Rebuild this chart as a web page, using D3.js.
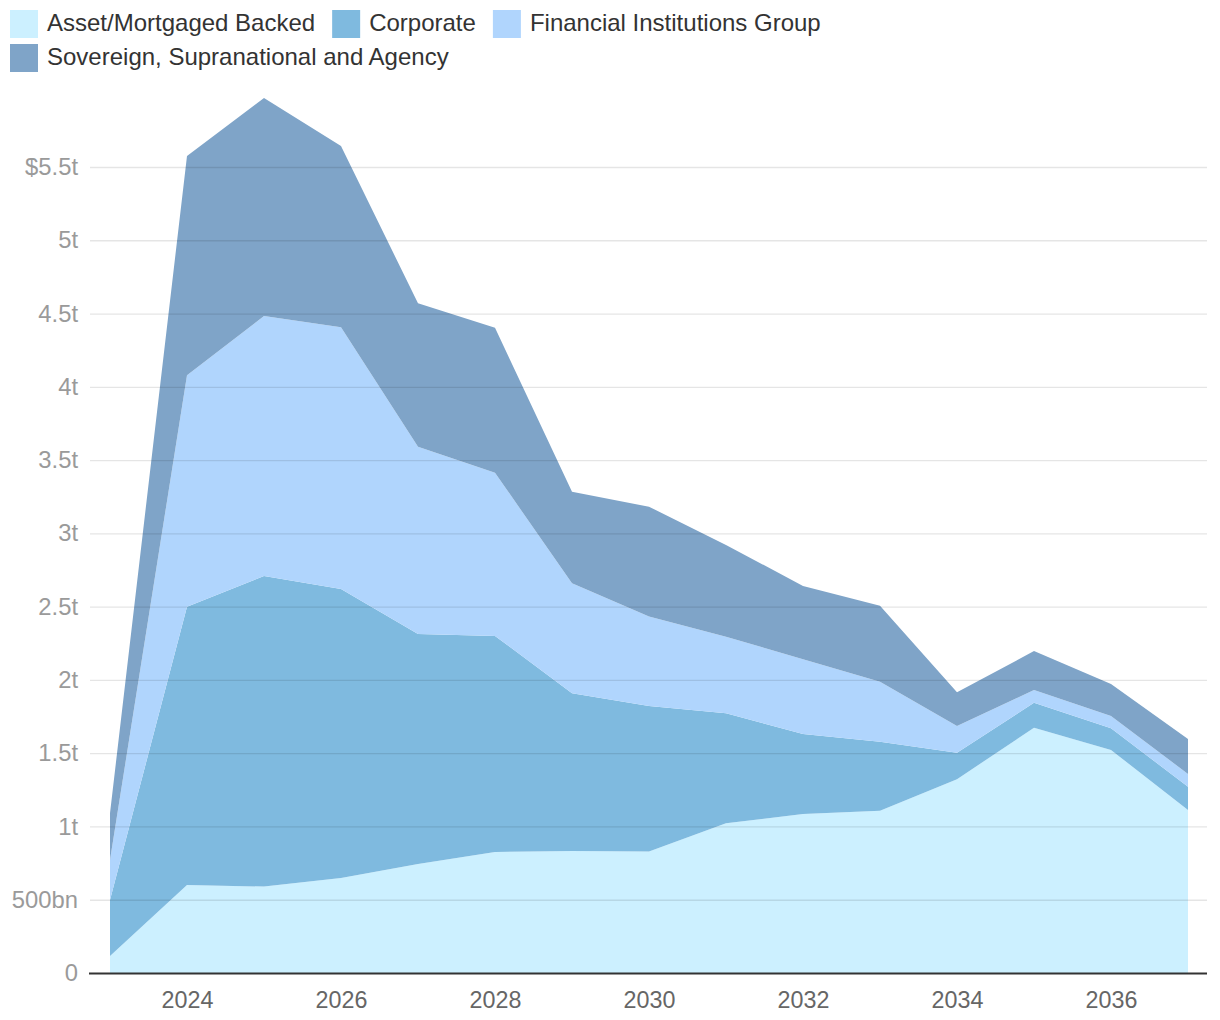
<!DOCTYPE html>
<html>
<head>
<meta charset="utf-8">
<script src="https://cdn.jsdelivr.net/npm/d3@7/dist/d3.min.js"></script>
<style>
  html, body { margin: 0; padding: 0; background: #fff; }
  svg { display: block; font-family: "Liberation Sans", Arial, Helvetica, sans-serif; }
</style>
</head>
<body>
<svg id="chart" width="1220" height="1020"></svg>
<script>
const years = [2023, 2024, 2025, 2026, 2027, 2028, 2029, 2030, 2031, 2032, 2033, 2034, 2035, 2036, 2037];
const seriesNames = ["Asset/Mortgaged Backed", "Corporate", "Financial Institutions Group", "Sovereign, Supranational and Agency"];
// values in trillions of dollars
const assetBacked = [0.116, 0.600, 0.590, 0.648, 0.744, 0.826, 0.833, 0.829, 1.022, 1.085, 1.108, 1.322, 1.674, 1.522, 1.112];
const corporate   = [0.382, 1.900, 2.119, 1.972, 1.569, 1.474, 1.076, 0.993, 0.750, 0.546, 0.470, 0.181, 0.170, 0.148, 0.159];
const financial   = [0.273, 1.579, 1.774, 1.786, 1.278, 1.114, 0.750, 0.611, 0.523, 0.510, 0.410, 0.182, 0.087, 0.084, 0.087];
const sovereign   = [0.319, 1.496, 1.488, 1.237, 0.979, 0.989, 0.625, 0.749, 0.626, 0.500, 0.518, 0.230, 0.266, 0.218, 0.239];
const yTickValues = [0, 0.5, 1, 1.5, 2, 2.5, 3, 3.5, 4, 4.5, 5, 5.5];
const yTickLabels = ["0", "500bn", "1t", "1.5t", "2t", "2.5t", "3t", "3.5t", "4t", "4.5t", "5t", "$5.5t"];
const xTickValues = [2024, 2026, 2028, 2030, 2032, 2034, 2036];
const colors = ["#ccf0ff", "#7fbadf", "#b0d5fd", "#7fa4c8"];

const svg = d3.select("#chart");
const keys = ["a", "c", "f", "s"];
const table = years.map((y, i) => ({ year: y, a: assetBacked[i], c: corporate[i], f: financial[i], s: sovereign[i] }));
const stacked = d3.stack().keys(keys)(table);

const plotLeft = 90, plotRight = 1207;
const x = d3.scaleLinear().domain([2023, 2037]).range([110, 1188]);
const y = d3.scaleLinear().domain([0, 5.5]).range([973, 167]);

// areas
const area = d3.area()
  .x(d => x(d.data.year))
  .y0(d => y(d[0]))
  .y1(d => y(d[1]));

svg.append("g").selectAll("path").data(stacked).join("path")
  .attr("d", area)
  .attr("fill", (d, i) => colors[i]);

// gridlines (drawn over areas, translucent)
const yAxis = d3.axisLeft(y).tickValues(yTickValues.slice(1)).tickSize(-(plotRight - plotLeft)).tickFormat("");
const gGrid = svg.append("g").attr("transform", `translate(${plotLeft},0)`).call(yAxis);
gGrid.select(".domain").remove();
gGrid.selectAll(".tick line").attr("stroke", "rgba(0,0,0,0.1)").attr("stroke-width", 1.3);

// y labels
const yLab = d3.axisLeft(y).tickValues(yTickValues).tickSize(0).tickPadding(0)
  .tickFormat((d, i) => yTickLabels[i]);
const gY = svg.append("g").attr("transform", "translate(78,0)").call(yLab);
gY.select(".domain").remove();
gY.selectAll(".tick text").attr("fill", "#9a9a9a").style("font-size", "23.8px")
  .style("font-family", "Liberation Sans, Arial, sans-serif");

// x axis
const xAxis = d3.axisBottom(x).tickValues(xTickValues).tickSize(0).tickPadding(0).tickFormat(d3.format("d"));
const gX = svg.append("g").attr("transform", "translate(0,973)").call(xAxis);
gX.select(".domain").remove();
gX.selectAll(".tick text").attr("fill", "#666").attr("dy", null).attr("y", 35)
  .style("font-size", "23.3px").style("font-family", "Liberation Sans, Arial, sans-serif");

svg.append("line").attr("x1", 89).attr("x2", plotRight).attr("y1", 973.5).attr("y2", 973.5)
  .attr("stroke", "#333").attr("stroke-width", 2);

// legend
const legend = svg.append("g");
let lx = 10, ly = 10;
seriesNames.forEach((name, i) => {
  const g = legend.append("g");
  const t = g.append("text").attr("x", 37).attr("y", 21).text(name)
    .attr("fill", "#333").style("font-size", "24px");
  const w = 37 + t.node().getComputedTextLength();
  if (lx + w > 1215 && lx > 10) { lx = 10; ly += 34; }
  g.attr("transform", `translate(${lx},${ly})`);
  g.insert("rect", "text").attr("x", 0).attr("y", 0).attr("width", 28).attr("height", 28).attr("fill", colors[i]);
  lx += w + 17;
});
</script>
</body>
</html>
